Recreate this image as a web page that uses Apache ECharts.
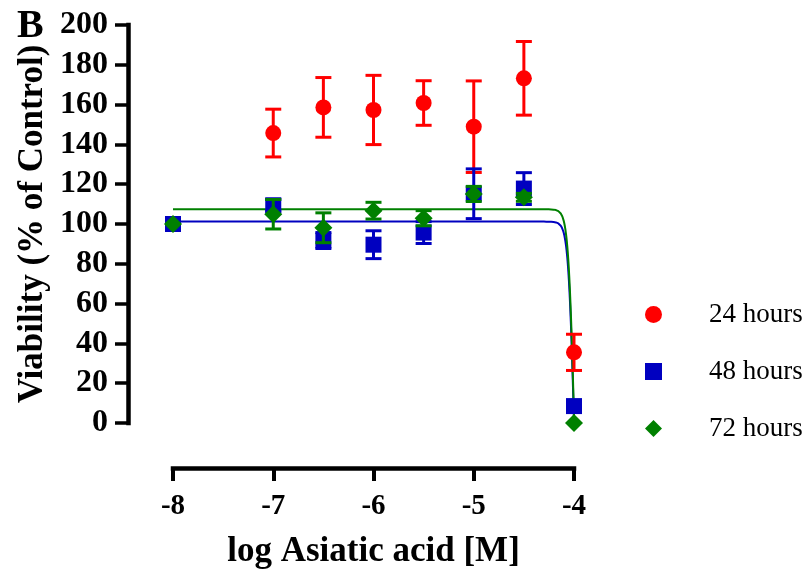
<!DOCTYPE html>
<html>
<head>
<meta charset="utf-8">
<script src="https://cdn.jsdelivr.net/npm/echarts@6/dist/echarts.min.js"></script>
<style>
  html, body { margin: 0; padding: 0; background: #fff; }
  #chart { width: 811px; height: 575px; }
</style>
</head>
<body>
<div id="chart"></div>
<script>
// log10 concentration of asiatic acid (M)
const logConc = [-8, -7, -6.5, -6, -5.5, -5, -4.5, -4];
const xTicks = [-8, -7, -6, -5, -4];

// viability, % of control: mean and SD per time point
const mean24 = [100, 145.7, 158.6, 157.3, 160.8, 148.9, 173.2, 35.5];
const sd24   = [0, 12, 15, 17.4, 11.2, 23, 18.5, 9.1];
const mean48 = [100, 109.4, 91.7, 89.6, 95.7, 115.2, 117.8, 8.5];
const sd48   = [0, 3, 4, 7, 5.5, 12.5, 8, 1];
const mean72 = [100, 104.9, 98.1, 106.7, 102.9, 115.1, 113.4, 0];
const sd72   = [0, 7.4, 7.5, 4.2, 3.8, 3.8, 2, 0];

// four-parameter logistic fits: [top, bottom, logIC50, hill slope]
const fit48 = [101.2, -100, -4.0, 15];
const fit72 = [107.4, -100, -4.0, 15];

const seriesNames = ['24 hours', '48 hours', '72 hours'];
const colors = ['#ff0000', '#0000c0', '#008000'];
const FONT = "'Times New Roman', 'Liberation Serif', serif";

function points(means) {
  return logConc.map((x, i) => [x, means[i]]);
}
function errRows(means, sds) {
  return logConc
    .map((x, i) => [x, means[i] - sds[i], means[i] + sds[i]])
    .filter((r, i) => sds[i] > 0);
}
function fitCurve(p) {
  const [top, bottom, logIC50, hill] = p;
  const xs = [];
  for (let x = -8; x < -4.3; x += 0.05) xs.push(x);
  for (let x = -4.3; x <= -4.0001; x += 0.002) xs.push(x);
  xs.push(-4);
  return xs.map(x => [x, bottom + (top - bottom) / (1 + Math.pow(10, hill * (x - logIC50)))]);
}
function errRenderer(color) {
  return function (params, api) {
    const x = api.value(0);
    const pLo = api.coord([x, api.value(1)]);
    const pHi = api.coord([x, api.value(2)]);
    const hw = 8;
    const style = { stroke: color, lineWidth: 3, fill: null };
    return {
      type: 'group',
      children: [
        { type: 'line', shape: { x1: pLo[0], y1: pLo[1], x2: pHi[0], y2: pHi[1] }, style },
        { type: 'line', shape: { x1: pLo[0] - hw, y1: pLo[1], x2: pLo[0] + hw, y2: pLo[1] }, style },
        { type: 'line', shape: { x1: pHi[0] - hw, y1: pHi[1], x2: pHi[0] + hw, y2: pHi[1] }, style }
      ]
    };
  };
}

const chart = echarts.init(document.getElementById('chart'), null, { renderer: 'canvas' });

const axisLineStyle = { color: '#000', width: 4.5, cap: 'square' };

const option = {
  animation: false,
  backgroundColor: '#fff',
  grid: { left: 173, top: 25, width: 401, height: 398, outerBoundsMode: 'none', containLabel: false },
  xAxis: {
    type: 'value', min: xTicks[0], max: xTicks[xTicks.length - 1], interval: 1,
    offset: 45,
    name: 'log Asiatic acid [M]',
    nameLocation: 'middle', nameGap: 66,
    nameTextStyle: { fontFamily: FONT, fontWeight: 'bold', fontSize: 35, color: '#000' },
    axisLine: { onZero: false, lineStyle: axisLineStyle },
    axisTick: { length: 13, lineStyle: { color: '#000', width: 4 } },
    axisLabel: { margin: 24, fontFamily: FONT, fontWeight: 'bold', fontSize: 29, color: '#000' },
    splitLine: { show: false }
  },
  yAxis: {
    type: 'value', min: 0, max: 200, interval: 20,
    offset: 45,
    name: 'Viability (% of Control)',
    nameLocation: 'middle', nameGap: 78, nameRotate: 90,
    nameTextStyle: { fontFamily: FONT, fontWeight: 'bold', fontSize: 35, color: '#000' },
    axisLine: { onZero: false, lineStyle: axisLineStyle },
    axisTick: { length: 13, lineStyle: { color: '#000', width: 3.5 } },
    axisLabel: { margin: 20, fontFamily: FONT, fontWeight: 'bold', fontSize: 32, color: '#000' },
    splitLine: { show: false }
  },
  legend: {
    data: seriesNames,
    orient: 'vertical',
    left: 640, top: 296,
    itemWidth: 17, itemHeight: 17, itemGap: 30,
    symbolKeepAspect: true,
    selectedMode: false,
    textStyle: { fontFamily: FONT, fontSize: 27, color: '#000', padding: [0, 0, 0, 42] }
  },
  graphic: [
    { type: 'text', left: 17, top: 7,
      style: { text: 'B', font: 'bold 40px ' + FONT, fill: '#000' } }
  ],
  series: [
    { name: 'fit48', type: 'line', data: fitCurve(fit48), showSymbol: false, symbol: 'none',
      lineStyle: { color: colors[1], width: 2 }, z: 1, silent: true },
    { name: 'fit72', type: 'line', data: fitCurve(fit72), showSymbol: false, symbol: 'none',
      lineStyle: { color: colors[2], width: 2 }, z: 1, silent: true },

    { name: 'err24', type: 'custom', renderItem: errRenderer(colors[0]), data: errRows(mean24, sd24),
      encode: { x: 0, y: [1, 2] }, z: 3 },
    { name: seriesNames[0], type: 'scatter', data: points(mean24), symbol: 'circle', symbolSize: 16,
      itemStyle: { color: colors[0], opacity: 1 }, z: 4 },

    { name: 'err48', type: 'custom', renderItem: errRenderer(colors[1]), data: errRows(mean48, sd48),
      encode: { x: 0, y: [1, 2] }, z: 5 },
    { name: seriesNames[1], type: 'scatter', data: points(mean48), symbol: 'rect', symbolSize: 16,
      itemStyle: { color: colors[1], opacity: 1 }, z: 6 },

    { name: 'err72', type: 'custom', renderItem: errRenderer(colors[2]), data: errRows(mean72, sd72),
      encode: { x: 0, y: [1, 2] }, z: 7 },
    { name: seriesNames[2], type: 'scatter', data: points(mean72), symbol: 'diamond', symbolSize: 18,
      itemStyle: { color: colors[2], opacity: 1 }, z: 8 }
  ]
};

chart.setOption(option);
</script>
</body>
</html>
